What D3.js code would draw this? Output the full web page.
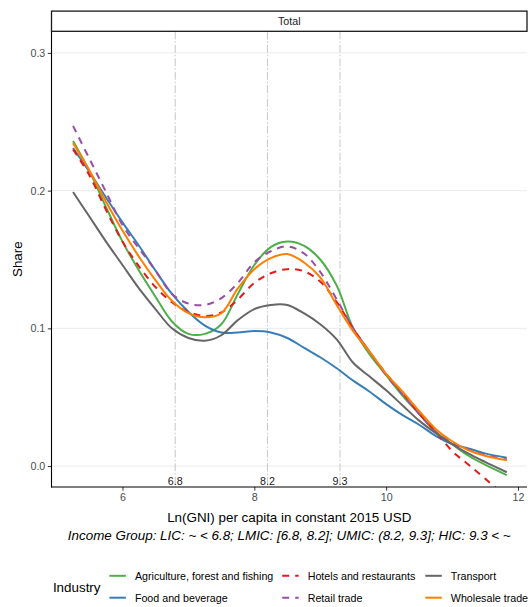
<!DOCTYPE html>
<html>
<head>
<meta charset="utf-8">
<script src="https://d3js.org/d3.v7.min.js"></script>
<style>
  body { margin: 0; background: #fff; }
  text { font-family: "Liberation Sans", Arial, sans-serif; }
</style>
</head>
<body>
<div id="chart"></div>
<script>
// values
var lnGni = [5.25, 5.5, 5.75, 6, 6.25, 6.5, 6.75, 7, 7.25, 7.5, 7.75, 8, 8.25, 8.5, 8.75,
             9, 9.25, 9.5, 9.75, 10, 10.25, 10.5, 10.75, 11, 11.25, 11.5, 11.83];

var agriculture = [0.236, 0.214, 0.188, 0.163, 0.142, 0.123, 0.105, 0.096, 0.096, 0.103, 0.125, 0.146, 0.159, 0.163, 0.160,
                   0.150, 0.131, 0.100, 0.081, 0.066, 0.051, 0.038, 0.025, 0.016, 0.0075, 0.001, -0.0066];
var food = [0.231, 0.2135, 0.195, 0.177, 0.160, 0.142, 0.125, 0.112, 0.102, 0.097, 0.097, 0.098, 0.097, 0.093, 0.086,
            0.079, 0.071, 0.062, 0.054, 0.045, 0.037, 0.030, 0.022, 0.016, 0.0128, 0.0092, 0.006];
var hotels = [0.230, 0.211, 0.186, 0.163, 0.145, 0.130, 0.119, 0.112, 0.109, 0.1115, 0.121, 0.133, 0.140, 0.143, 0.1415,
              0.134, 0.119, 0.100, 0.083, 0.067, 0.053, 0.038, 0.025, 0.011, 0.001, -0.009, -0.023];
var retail = [0.247, 0.223, 0.199, 0.175, 0.158, 0.142, 0.125, 0.118, 0.117, 0.122, 0.133, 0.148, 0.156, 0.1595, 0.1545,
              0.141, 0.121, 0.100, 0.083, 0.066, 0.052, 0.038, 0.025, 0.017, 0.012, 0.008, 0.0048];
var transport = [0.199, 0.181, 0.163, 0.146, 0.129, 0.114, 0.100, 0.093, 0.091, 0.095, 0.106, 0.114, 0.117, 0.117, 0.111,
                 0.103, 0.092, 0.075, 0.065, 0.055, 0.044, 0.033, 0.024, 0.016, 0.009, 0.003, -0.0045];
var wholesale = [0.2345, 0.2145, 0.192, 0.171, 0.152, 0.135, 0.120, 0.111, 0.108, 0.111, 0.129, 0.143, 0.151, 0.154, 0.148,
                 0.137, 0.117, 0.098, 0.083, 0.067, 0.054, 0.040, 0.027, 0.018, 0.0115, 0.0075, 0.0043];

var industries = ["Agriculture, forest and fishing", "Food and beverage", "Hotels and restaurants",
                  "Retail trade", "Transport", "Wholesale trade"];
var industryColors = ["#4DAF4A", "#377EB8", "#E41A1C", "#984EA3", "#666666", "#FF7F00"];
var dashedIndustries = ["Hotels and restaurants", "Retail trade"];

var groupCuts = [6.8, 8.2, 9.3];
var xTicks = [6, 8, 10, 12];
var yTicks = [0, 0.1, 0.2, 0.3];

var seriesValues = [agriculture, food, hotels, retail, transport, wholesale];
var series = industries.map(function(name, i) {
  return { name: name, values: lnGni.map(function(x, j) { return { x: x, y: seriesValues[i][j] }; }) };
});

var W = 528, H = 607;
var panel = { left: 51.5, right: 527, top: 31.3, bottom: 487 };

var svg = d3.select("#chart").append("svg")
  .attr("width", W).attr("height", H);

var x = d3.scaleLinear().domain([4.923, 12.137]).range([panel.left, panel.right]);
var y = d3.scaleLinear().domain([-0.0152, 0.3157]).range([panel.bottom, panel.top]);
var color = d3.scaleOrdinal().domain(industries).range(industryColors);

// gridlines
svg.append("g").selectAll("line")
  .data(yTicks).enter().append("line")
  .attr("x1", panel.left).attr("x2", panel.right)
  .attr("y1", function(d) { return y(d); }).attr("y2", function(d) { return y(d); })
  .style("stroke", "#EBEBEB").style("stroke-width", 1);

// income group cut-offs
svg.append("g").selectAll("line")
  .data(groupCuts).enter().append("line")
  .attr("x1", function(d) { return x(d); }).attr("x2", function(d) { return x(d); })
  .attr("y1", panel.top).attr("y2", panel.bottom)
  .style("stroke", "#CCCCCC").style("stroke-width", 1.1)
  .style("stroke-dasharray", "8,2,1.5,2");

svg.append("g").selectAll("text")
  .data(groupCuts).enter().append("text")
  .attr("x", function(d) { return x(d); }).attr("y", 485)
  .attr("text-anchor", "middle")
  .style("font-size", "10.7px").style("fill", "#1A1A1A")
  .text(function(d) { return d.toFixed(1); });

// lines
svg.append("clipPath").attr("id", "clip").append("rect")
  .attr("x", panel.left).attr("y", panel.top)
  .attr("width", panel.right - panel.left).attr("height", panel.bottom - panel.top);

var line = d3.line()
  .x(function(d) { return x(d.x); })
  .y(function(d) { return y(d.y); })
  .curve(d3.curveCatmullRom.alpha(0.5));

svg.append("g").attr("clip-path", "url(#clip)")
  .selectAll("path")
  .data(series).enter().append("path")
  .attr("d", function(d) { return line(d.values); })
  .style("fill", "none")
  .style("stroke", function(d) { return color(d.name); })
  .style("stroke-width", 2)
  .style("stroke-dasharray", function(d) { return dashedIndustries.indexOf(d.name) >= 0 ? "7,6" : null; });

// axes
var yAxis = svg.append("g")
  .attr("transform", "translate(" + panel.left + ",0)")
  .call(d3.axisLeft(y).tickValues(yTicks).tickFormat(d3.format(".1f")).tickSize(3.7).tickPadding(2.5));
var xAxis = svg.append("g")
  .attr("transform", "translate(0," + panel.bottom + ")")
  .call(d3.axisBottom(x).tickValues(xTicks).tickSize(3.7).tickPadding(2.5));

[yAxis, xAxis].forEach(function(ax) {
  ax.select(".domain").remove();
  ax.selectAll("line").style("stroke", "#333333");
  ax.selectAll("text").style("font-size", "10.7px").style("fill", "#4D4D4D")
    .style("font-family", "'Liberation Sans', Arial, sans-serif");
});

svg.append("line")
  .attr("x1", panel.left).attr("x2", panel.left)
  .attr("y1", panel.top).attr("y2", panel.bottom + 0.5)
  .style("stroke", "#000").style("stroke-width", 1.1);
svg.append("line")
  .attr("x1", panel.left - 0.5).attr("x2", panel.right)
  .attr("y1", panel.bottom).attr("y2", panel.bottom)
  .style("stroke", "#000").style("stroke-width", 1.1);

// strip
svg.append("rect")
  .attr("x", panel.left).attr("y", 11.1)
  .attr("width", panel.right - panel.left).attr("height", panel.top - 11.1)
  .style("fill", "#fff").style("stroke", "#1A1A1A").style("stroke-width", 1.3);
svg.append("text")
  .attr("x", (panel.left + panel.right) / 2).attr("y", 25)
  .attr("text-anchor", "middle")
  .style("font-size", "10.7px").style("fill", "#1A1A1A")
  .text("Total");

// titles
svg.append("text")
  .attr("x", (panel.left + panel.right) / 2).attr("y", 521.5)
  .attr("text-anchor", "middle").style("font-size", "13.4px")
  .text("Ln(GNI) per capita in constant 2015 USD");

svg.append("text")
  .attr("transform", "translate(22," + (panel.top + panel.bottom) / 2 + ") rotate(-90)")
  .attr("text-anchor", "middle").style("font-size", "13.4px")
  .text("Share");

svg.append("text")
  .attr("x", (panel.left + panel.right) / 2).attr("y", 540)
  .attr("text-anchor", "middle").style("font-size", "13.4px").style("font-style", "italic")
  .text("Income Group: LIC: ~ < 6.8; LMIC: [6.8, 8.2]; UMIC: (8.2, 9.3]; HIC: 9.3 < ~");

// legend
var legend = svg.append("g");
legend.append("text")
  .attr("x", 52.9).attr("y", 591.5).style("font-size", "13.4px")
  .text("Industry");

var colX = [109.4, 282.2, 425.3];
var rowY = [575.8, 597.7];
var item = legend.selectAll("g.item")
  .data(industries).enter().append("g")
  .attr("transform", function(d, i) {
    return "translate(" + colX[Math.floor(i / 2)] + "," + rowY[i % 2] + ")";
  });
item.append("line")
  .attr("x1", 0).attr("x2", 16.5).attr("y1", 0).attr("y2", 0)
  .style("stroke", function(d) { return color(d); })
  .style("stroke-width", 2)
  .style("stroke-dasharray", function(d) { return dashedIndustries.indexOf(d) >= 0 ? "7,6" : null; });
item.append("text")
  .attr("x", 25.5).attr("y", 3.8)
  .style("font-size", "10.7px").style("fill", "#000")
  .text(function(d) { return d; });
</script>
</body>
</html>
